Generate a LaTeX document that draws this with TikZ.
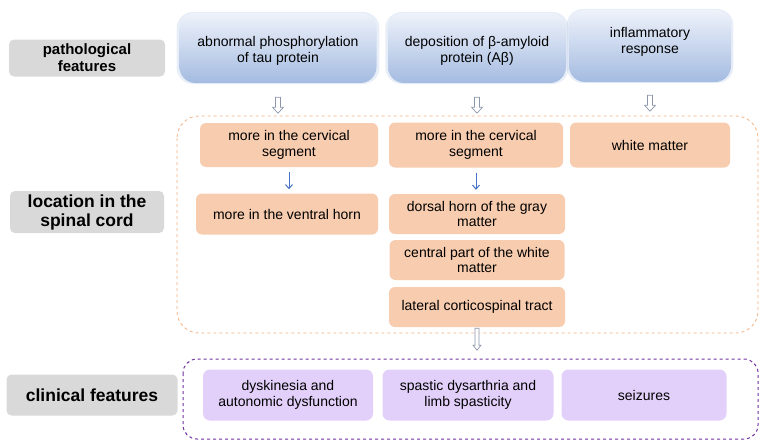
\documentclass[tikz,border=0pt]{standalone}
\usepackage{fontspec}
\setmainfont{Liberation Sans}
\usetikzlibrary{calc,shadows,arrows.meta}
\definecolor{grayfill}{RGB}{217,217,217}
\definecolor{orangefill}{RGB}{248,204,174}
\definecolor{orangeline}{RGB}{244,177,131}
\definecolor{purplefill}{RGB}{226,208,250}
\definecolor{purpleline}{RGB}{112,48,160}
\definecolor{bluetop}{RGB}{238,242,250}
\definecolor{bluebot}{RGB}{164,187,225}
\definecolor{arrowblue}{RGB}{68,114,196}
\definecolor{hollowline}{RGB}{140,150,170}
\tikzset{
  lab/.style={fill=grayfill, rounded corners=5pt, align=center, font=\fontsize{17.5}{19}\selectfont\bfseries, inner sep=0pt},
  bluebox/.style={rounded corners=16pt, top color=bluetop, bottom color=bluebot, inner sep=0pt,
     general shadow={fill=bluebot, opacity=0.25, shadow scale=1.03}},
  bluetext/.style={align=center, font=\fontsize{14}{15.5}\selectfont, inner sep=0pt},
  orangebox/.style={fill=orangefill, rounded corners=6pt, align=center, font=\fontsize{14}{15.5}\selectfont, inner sep=0pt},
  purplebox/.style={fill=purplefill, rounded corners=7pt, align=center, font=\fontsize{14}{15.5}\selectfont, inner sep=0pt},
  ocontainer/.style={draw=orangeline, dashed, rounded corners=22pt, line width=0.8pt},
  pcontainer/.style={draw=purpleline, dashed, rounded corners=14pt, line width=1pt},
  thinarr/.style={draw=arrowblue, line width=1pt, -{Straight Barb[length=4pt,width=7pt]}},
  hollowdown/.pic={\draw[hollowline, fill=white, line width=0.7pt] (-2.5,0) -- (-2.5,10) -- (-5.5,10) -- (0,16) -- (5.5,10) -- (2.5,10) -- (2.5,0) -- cycle;},
  hollowlong/.pic={\draw[hollowline, fill=white, line width=0.7pt] (-2,0) -- (-2,17) -- (-4,17) -- (0,22) -- (4,17) -- (2,17) -- (2,0) -- cycle;}
}
\begin{document}
\begin{tikzpicture}[x=1pt,y=-1pt]
\useasboundingbox (0,0) rectangle (768,447);
% containers
\draw[ocontainer] (177,116) rectangle (758,333);
\draw[pcontainer] (183,359) rectangle (758,439);
% gray labels
\node[lab, font=\fontsize{15}{17}\selectfont\bfseries, minimum width=156pt, minimum height=37pt] (g1) at (87,58) {pathological\\features};
\node[lab, minimum width=154pt, minimum height=42pt] (g2) at (87,212) {location in the\\spinal cord};
\node[lab, minimum width=171pt, minimum height=41pt] (g3) at (92,395) {clinical features};
% blue boxes
\node[bluebox, minimum width=197pt, minimum height=70pt] (b1) at (278,48) {};
\node[bluetext] (b1t) at ([yshift=-3pt]b1.center) {abnormal phosphorylation\\of tau protein};
\node[bluebox, minimum width=178pt, minimum height=70pt] (b2) at (477,48) {};
\node[bluetext] (b2t) at ([yshift=-3pt]b2.center) {deposition of β-amyloid\\protein (Aβ)};
\node[bluebox, minimum width=162pt, minimum height=72pt] (b3) at (650,46) {};
\node[bluetext] (b3t) at ([yshift=4pt]b3.center) {inflammatory\\response};
% hollow arrows
\pic at ([yshift=-14pt]b1.south) {hollowdown};
\pic at ([yshift=-14pt]b2.south) {hollowdown};
\pic at ([yshift=-13pt]b3.south) {hollowdown};
% orange boxes
\node[orangebox, minimum width=178pt, minimum height=44pt] (o1) at (289,145) {more in the cervical\\segment};
\node[orangebox, minimum width=182pt, minimum height=41pt] (o2) at (287,214) {more in the ventral horn};
\node[orangebox, minimum width=174pt, minimum height=45pt] (o3) at (476,145) {more in the cervical\\segment};
\node[orangebox, minimum width=176pt, minimum height=40pt] (o4) at (477,214) {dorsal horn of the gray\\matter};
\node[orangebox, minimum width=175pt, minimum height=40pt] (o5) at (477,260) {central part of the white\\matter};
\node[orangebox, minimum width=176pt, minimum height=40pt] (o6) at (477,307) {lateral corticospinal tract};
\node[orangebox, minimum width=160pt, minimum height=45pt] (o7) at (650,145) {white matter};
% thin arrows
\draw[thinarr, shorten <=5pt, shorten >=4pt] (o1.south) -- (o1.south |- o2.north);
\draw[thinarr, shorten <=5pt, shorten >=4pt] (o3.south) -- (o3.south |- o4.north);
% bottom hollow arrow
\pic at ([yshift=-1pt]o6.south) {hollowlong};
% purple boxes
\node[purplebox, minimum width=170pt, minimum height=51pt] (p1) at (288,395) {dyskinesia and\\autonomic dysfunction};
\node[purplebox, minimum width=171pt, minimum height=51pt] (p2) at (468,395) {spastic dysarthria and\\limb spasticity};
\node[purplebox, minimum width=165pt, minimum height=51pt] (p3) at (644,395) {seizures};
\end{tikzpicture}
\end{document}
